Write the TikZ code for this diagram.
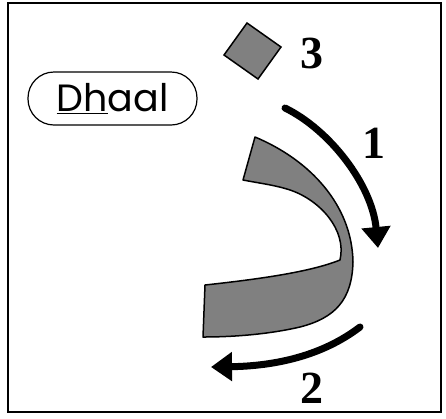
\documentclass[tikz,border=0pt]{standalone}
\usepackage{fontspec}
\usepackage{tikz}
\usetikzlibrary{arrows.meta}
\newfontfamily\namefont{Poppins}
\newfontfamily\numfont{Liberation Serif}
\definecolor{inkGray}{RGB}{128, 128, 128}

\begin{document}
\begin{tikzpicture}[x=1pt, y=-1pt,
    stroke/.style={line width=7pt, line cap=round, -{Triangle[length=21pt, width=28pt]}},
    stepnum/.style={font=\numfont\bfseries\fontsize{46}{46}\selectfont, inner sep=0pt}]
      \useasboundingbox (0,0) rectangle (446,418);
      \draw[line width=1.8pt] (8,3) rectangle (441,412);

      % name of the letter
      \node[draw, line width=1.2pt, rounded corners=26pt, minimum width=169pt, minimum height=53pt,
            font=\namefont\fontsize{38}{40}\selectfont] (dhaal) at (112.5,98.5) {\underline{Dh}aal};

      % dot above the letter
      \draw[fill=inkGray, line width=1.5pt] (247,23) -- (281,47) -- (258,79) -- (224,55) -- cycle;

      % body of the letter: outer edge, left end, inner edge
      \draw[fill=inkGray, line width=1.5pt, line join=round]
        (255,137) .. controls (310,160) and (352,205) .. (353,262)
        .. controls (352,300) and (335,318) .. (300,327)
        .. controls (270,334) and (235,337) .. (203,337)
        -- (205,285)
        .. controls (260,279) and (310,272) .. (340,260)
        .. controls (347,230) and (320,200) .. (290,190)
        .. controls (275,185) and (258,183) .. (243,180) -- cycle;

      % stroke order
      \coordinate (s1) at (285,108);
      \coordinate (e1) at (378,248);
      \draw[stroke] (s1) .. controls (330,130) and (372,185) .. (e1);
      \coordinate (s2) at (360,327);
      \coordinate (e2) at (211,367);
      \draw[stroke] (s2) .. controls (322,356) and (275,366) .. (e2);

      \node[stepnum] (n1) at (374,143) {1};
      \node[stepnum] (n2) at (312,388) {2};
      \node[stepnum] (n3) at (312,53) {3};
    \end{tikzpicture}
\end{document}
